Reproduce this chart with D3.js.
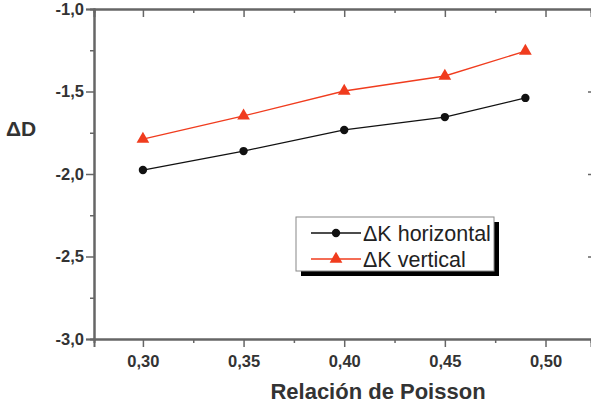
<!DOCTYPE html>
<html>
<head>
<meta charset="utf-8">
<script src="https://cdn.jsdelivr.net/npm/d3@7"></script>
<style>
  body { margin: 0; background: #fff; }
  svg { display: block; font-family: "Liberation Sans", Arial, sans-serif; }
</style>
</head>
<body>
<div id="chart"></div>
<script>
// DATA
const poisson = [0.30, 0.35, 0.40, 0.45, 0.49];
const horizontal = [-1.976, -1.861, -1.733, -1.655, -1.539];
const vertical = [-1.788, -1.648, -1.497, -1.406, -1.255];
const xTicks = [0.30, 0.35, 0.40, 0.45, 0.50];
const yTicks = [-1.0, -1.5, -2.0, -2.5, -3.0];
const seriesNames = ['\u0394K horizontal', '\u0394K vertical'];

const W = 591, H = 406;
const m = { top: 9, right: 0, bottom: 67, left: 94 };

const svg = d3.select('#chart').append('svg').attr('width', W).attr('height', H);

// SCALES
const x = d3.scaleLinear().domain([0.2757, 0.5226]).range([m.left, W - m.right]);
const y = d3.scaleLinear().domain([-3.0, -1.0]).range([H - m.bottom, m.top]);

// COMMA DECIMALS, PLAIN HYPHEN
const comma = (f) => (d) => d3.format(f)(d).replace('\u2212', '-').replace('.', ',');
const axisColor = '#666';
const xMinor = d3.range(0.325, 0.52, 0.05);
const yMinor = d3.range(-2.75, -1.0, 0.5);

function styleAxis(g) {
  g.selectAll('path.domain').attr('stroke', axisColor).attr('stroke-width', 2);
  g.selectAll('.tick line').attr('stroke', axisColor).attr('stroke-width', 1.5);
  g.selectAll('.tick text')
    .attr('fill', '#333')
    .attr('font-size', 16.5)
    .attr('font-weight', 'bold')
    .attr('font-family', '"Liberation Sans", Arial, sans-serif');
}

// MINOR TICKS
svg.append('g').attr('transform', `translate(0,${y(-3)})`)
  .call(d3.axisBottom(x).tickValues(xMinor).tickSize(4).tickFormat(''))
  .call(styleAxis);
svg.append('g').attr('transform', `translate(0,${y(-1)})`)
  .call(d3.axisBottom(x).tickValues(xMinor).tickSize(4).tickFormat(''))
  .call(styleAxis);
svg.append('g').attr('transform', `translate(${x.range()[0]},0)`)
  .call(d3.axisLeft(y).tickValues(yMinor).tickSize(4).tickFormat(''))
  .call(styleAxis);

// MAIN AXES
svg.append('g').attr('transform', `translate(0,${y(-3)})`)
  .call(d3.axisBottom(x).tickValues(xTicks).tickSize(8).tickPadding(8).tickFormat(comma('.2f')))
  .call(styleAxis);
svg.append('g').attr('transform', `translate(0,${y(-1)})`)
  .call(d3.axisBottom(x).tickValues(xTicks).tickSize(8).tickFormat(''))
  .call(styleAxis);
svg.append('g').attr('transform', `translate(${x.range()[0]},0)`)
  .call(d3.axisLeft(y).tickValues(yTicks).tickSize(8).tickPadding(2).tickFormat(comma('.1f')))
  .call(styleAxis);
// RIGHT AXIS (LINE CUT OFF AT EDGE, ONLY TICKS SHOW)
svg.append('g').attr('transform', `translate(${x.range()[1] + 1},0)`)
  .call(d3.axisLeft(y).tickValues(yTicks.slice(1, 4)).tickSize(4).tickFormat(''))
  .call(styleAxis)
  .call((g) => g.select('path.domain').remove());

// AXIS LABELS
svg.append('text')
  .attr('x', 378).attr('y', 399)
  .attr('text-anchor', 'middle')
  .attr('font-size', 22).attr('font-weight', 'bold').attr('fill', '#333')
  .text('Relación de Poisson');
svg.append('text')
  .attr('x', 6).attr('y', 136)
  .attr('font-size', 21).attr('font-weight', 'bold').attr('fill', '#333')
  .text('\u0394D');

// SERIES
const series = [
  { vals: horizontal, color: '#111', shape: d3.symbolCircle, size: 55 },
  { vals: vertical, color: '#f03c1e', shape: d3.symbolTriangle, size: 70 },
];

const line = d3.line().x((d) => x(d[0])).y((d) => y(d[1]));

series.forEach((s) => {
  const pts = poisson.map((p, i) => [p, s.vals[i]]);
  svg.append('path').datum(pts)
    .attr('fill', 'none').attr('stroke', s.color).attr('stroke-width', 1.3)
    .attr('d', line);
  svg.selectAll(null).data(pts).enter().append('path')
    .attr('transform', (d) => `translate(${x(d[0])},${y(d[1])})`)
    .attr('d', d3.symbol().type(s.shape).size(s.size))
    .attr('fill', s.color);
});

// LEGEND
const lg = { x: 296, y: 217, w: 198, h: 54 };
svg.append('rect').attr('x', lg.x + 5).attr('y', lg.y + 5).attr('width', lg.w).attr('height', lg.h).attr('fill', '#000');
svg.append('rect').attr('x', lg.x).attr('y', lg.y).attr('width', lg.w).attr('height', lg.h)
  .attr('fill', '#fff').attr('stroke', '#888').attr('stroke-width', 1);

series.forEach((s, i) => {
  const ly = 233 + i * 26;
  svg.append('line').attr('x1', 311).attr('x2', 361).attr('y1', ly).attr('y2', ly)
    .attr('stroke', s.color).attr('stroke-width', 1.3);
  svg.append('path').attr('transform', `translate(336,${ly})`)
    .attr('d', d3.symbol().type(s.shape).size(s.size)).attr('fill', s.color);
  svg.append('text').attr('x', 363).attr('y', ly + 8)
    .attr('font-size', 21.5).attr('fill', '#222')
    .text(seriesNames[i]);
});
</script>
</body>
</html>
